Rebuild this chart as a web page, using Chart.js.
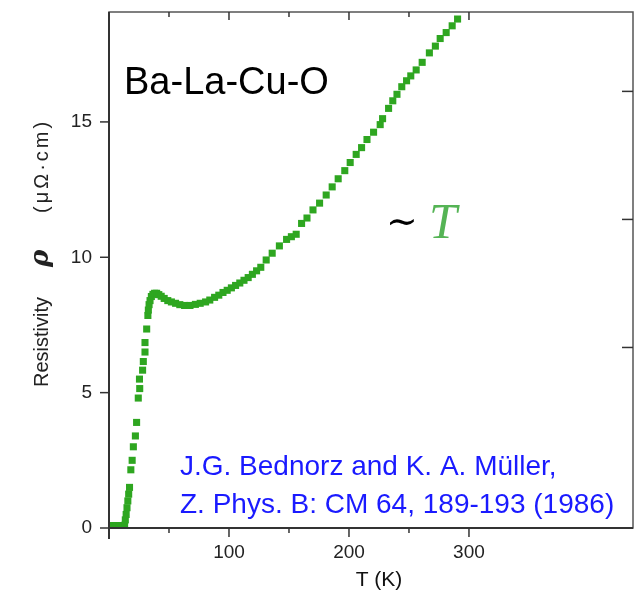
<!DOCTYPE html>
<html lang="en">
<head>
  <meta charset="UTF-8" />
  <title>Ba-La-Cu-O resistivity</title>
  <script src="https://cdn.jsdelivr.net/npm/chart.js"></script>
  <style>
    html, body { margin: 0; padding: 0; background: #fff; }
  </style>
</head>
<body>
  <canvas id="rhoChart" width="638" height="595"></canvas>

  <script>
    // temperature (K) and resistivity
    const temps = [1, 2, 3, 4, 5, 6, 7, 8, 9, 10, 11, 12, 13,
      13.6, 14.3, 15, 15.7, 16.4, 17.1,
      18.2, 19.3, 20.3, 22, 23, 24.4, 25.6, 25.4, 28, 28.6, 30, 30, 31.4, 32.4, 32.8, 33.4, 34.2, 35.3,
      36.6, 38, 39.7, 41.5, 43.5, 46, 49, 52, 55.5, 59, 63, 67.5, 72, 76, 80.5, 84, 88, 91.5, 95,
      98.5, 102, 105.5, 109, 112.5, 116, 119.5, 123, 126.5, 131, 136, 142, 148, 152, 156, 160.5,
      165, 170, 175.5, 181, 186, 191, 196.5, 201, 206, 210.5, 215, 220.5, 226, 228, 233, 236.5,
      240, 244, 248, 251.5, 256, 261, 267, 272, 276, 281, 286, 290.5];
    const rho = [0.08, 0.08, 0.08, 0.08, 0.08, 0.08, 0.08, 0.08, 0.08, 0.08, 0.08, 0.08, 0.1,
      0.3, 0.5, 0.75, 1.0, 1.25, 1.5,
      2.15, 2.5, 3.0, 3.4, 3.9, 4.8, 5.15, 5.5, 5.83, 6.15, 6.5, 6.85, 7.35, 7.85, 8.05, 8.25, 8.4, 8.55,
      8.63, 8.67, 8.67, 8.62, 8.56, 8.48, 8.4, 8.35, 8.3, 8.25, 8.22, 8.22, 8.26, 8.3, 8.35, 8.42, 8.52, 8.6, 8.7,
      8.78, 8.87, 8.96, 9.05, 9.15, 9.25, 9.37, 9.5, 9.63, 9.9, 10.15, 10.42, 10.66, 10.76, 10.85, 11.25,
      11.45, 11.75, 12.0, 12.3, 12.6, 12.9, 13.2, 13.5, 13.8, 14.05, 14.35, 14.62, 14.9, 15.12, 15.5, 15.78,
      16.02, 16.3, 16.52, 16.7, 16.92, 17.2, 17.55, 17.8, 18.08, 18.3, 18.55, 18.8];

    const xLabelTicks = [100, 200, 300];
    const xMinorTicks = [50, 150, 250];
    const yLabelTicks = [0, 5, 10, 15];
    const rightTicks = [1, 2, 3];   // unlabeled ticks of the right-hand axis

    const sans = "'Liberation Sans', Arial, sans-serif";

    function seg(ctx, x1, y1, x2, y2) {
      ctx.beginPath();
      ctx.moveTo(x1, y1);
      ctx.lineTo(x2, y2);
      ctx.stroke();
    }

    // frame, tick marks and the free text of the figure
    const decor = {
      id: 'decor',
      afterDraw(chart) {
        const { ctx, chartArea: a, scales } = chart;
        const sx = scales.x, sy = scales.y, sy2 = scales.y2;
        ctx.save();

        ctx.strokeStyle = '#555';
        ctx.lineWidth = 1.5;
        ctx.strokeRect(a.left, a.top, a.right - a.left, a.bottom - a.top);

        ctx.strokeStyle = '#333';
        ctx.lineWidth = 2;
        seg(ctx, a.left, a.top, a.left, a.bottom + 11);
        seg(ctx, a.left, a.bottom, a.right, a.bottom);

        ctx.lineWidth = 1.5;
        yLabelTicks.forEach(v => {
          const p = sy.getPixelForValue(v);
          seg(ctx, a.left - 9, p, a.left, p);
        });
        xLabelTicks.forEach(v => {
          const p = sx.getPixelForValue(v);
          seg(ctx, p, a.bottom, p, a.bottom + 9);
          seg(ctx, p, a.top, p, a.top + 8);
        });
        xMinorTicks.forEach(v => {
          const p = sx.getPixelForValue(v);
          seg(ctx, p, a.bottom, p, a.bottom + 5);
          seg(ctx, p, a.top, p, a.top + 5);
        });
        rightTicks.forEach(v => {
          const p = sy2.getPixelForValue(v);
          seg(ctx, a.right - 11, p, a.right, p);
        });

        // y axis title, mixed fonts
        ctx.translate(48, 387);
        ctx.rotate(-Math.PI / 2);
        ctx.fillStyle = '#222';
        ctx.textBaseline = 'alphabetic';
        ctx.textAlign = 'left';
        ctx.font = '20px ' + sans;
        ctx.fillText('Resistivity', 0, 0);
        ctx.font = 'bold italic 26px "DejaVu Serif", serif';
        ctx.fillText('ρ', 120, 0);
        ctx.font = '20px ' + sans;
        ctx.letterSpacing = '3px';
        ctx.fillText('(μΩ·cm)', 174, 0);
        ctx.restore();

        ctx.save();
        ctx.textBaseline = 'alphabetic';
        ctx.fillStyle = '#111';
        ctx.font = '21px ' + sans;
        ctx.textAlign = 'center';
        ctx.fillText('T (K)', 379, 586);
        ctx.textAlign = 'left';

        ctx.fillStyle = '#000';
        ctx.font = '38px ' + sans;
        ctx.fillText('Ba-La-Cu-O', 124, 94);

        ctx.font = '38px "DejaVu Serif", serif';
        ctx.fillText('∼', 386, 234);
        ctx.fillStyle = '#55b455';
        ctx.font = 'italic 50px "Liberation Serif", serif';
        ctx.fillText('T', 429, 238);

        ctx.fillStyle = '#1a1aff';
        ctx.font = '28px ' + sans;
        ctx.fillText('J.G. Bednorz and K. A. Müller,', 180, 475);
        ctx.fillText('Z. Phys. B: CM 64, 189-193 (1986)', 180, 513);
        ctx.restore();
      }
    };

    const ctx = document.getElementById('rhoChart').getContext('2d');
    new Chart(ctx, {
      type: 'scatter',
      data: {
        datasets: [{
          data: temps.map((t, i) => ({ x: t, y: rho[i] })),
          backgroundColor: 'rgb(46,166,32)',
          borderWidth: 0,
          pointStyle: 'rect',
          pointRadius: 5
        }]
      },
      options: {
        responsive: false,
        animation: false,
        layout: { padding: { top: 12 } },
        plugins: { legend: { display: false }, tooltip: { enabled: false } },
        scales: {
          x: {
            type: 'linear', min: 0, max: 436.7,
            grid: { display: false, drawTicks: false },
            border: { display: false },
            afterBuildTicks: s => { s.ticks = xLabelTicks.map(v => ({ value: v })); },
            ticks: { padding: 13, color: '#222', maxRotation: 0, font: { family: sans, size: 19 } },
            afterFit: s => { s.height = 67; s.paddingLeft = 0; s.paddingRight = 0; }
          },
          y: {
            min: 0, max: 19.06,
            grid: { display: false, drawTicks: false },
            border: { display: false },
            afterBuildTicks: s => { s.ticks = yLabelTicks.map(v => ({ value: v })); },
            ticks: { padding: 17, color: '#222', font: { family: sans, size: 19 } },
            afterFit: s => { s.width = 109; s.paddingTop = 0; s.paddingBottom = 0; }
          },
          y2: {
            position: 'right', min: -0.41, max: 3.62,
            grid: { display: false, drawTicks: false },
            border: { display: false },
            afterBuildTicks: s => { s.ticks = rightTicks.map(v => ({ value: v })); },
            ticks: { display: false },
            afterFit: s => { s.width = 5; s.paddingTop = 0; s.paddingBottom = 0; }
          }
        }
      },
      plugins: [decor]
    });
  </script>
</body>
</html>
